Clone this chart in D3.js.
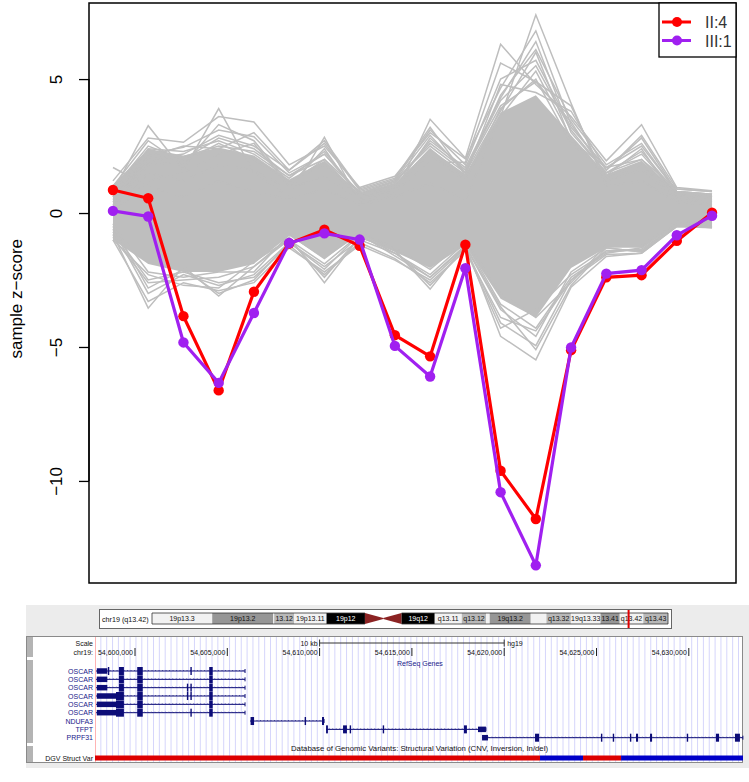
<!DOCTYPE html>
<html><head><meta charset="utf-8">
<script src="https://cdn.jsdelivr.net/npm/d3@7"></script>
<style>body{margin:0;background:#fff}svg{display:block}</style>
</head><body>
<svg id="chart" width="749" height="782"></svg>
<script>
// ---------------- DATA: z-score profile plot ----------------
const probes = [1,2,3,4,5,6,7,8,9,10,11,12,13,14,15,16,17,18];
const seriesNames = ["II:4","III:1"];
const ii4  = [0.86,0.55,-3.85,-6.62,-2.94,-1.14,-0.62,-1.22,-4.56,-5.35,-1.18,-9.62,-11.42,-5.12,-2.40,-2.32,-1.04,0.01];
const iii1 = [0.08,-0.13,-4.83,-6.34,-3.73,-1.12,-0.76,-0.99,-4.96,-6.10,-2.06,-10.42,-13.15,-5.02,-2.26,-2.13,-0.83,-0.10];
// dense core of the background samples (upper / lower edge)
const coreHigh = [1.05,2.40,2.15,2.45,2.15,1.25,1.95,0.70,1.10,2.40,1.45,3.75,4.40,2.90,1.45,1.95,0.80,0.70];
const coreLow  = [-1.00,-1.90,-2.20,-2.20,-1.90,-0.85,-1.70,-0.80,-1.45,-2.05,-1.20,-3.20,-3.90,-2.05,-1.30,-1.30,-0.45,-0.50];
// individual background samples that reach outside the core
const bgUp1  = [1.70,1.00,0.60,1.20,0.80,0.50,0.90,0.30,0.60,1.10,0.50,3.60,7.40,4.10,1.00,1.20,0.40,0.30];
const bgUp2  = [0.80,3.26,1.60,3.90,1.50,0.60,2.83,0.40,0.70,3.50,2.05,6.30,4.80,3.60,1.95,3.30,0.95,0.83];
const bgUp3  = [1.20,2.80,2.64,3.60,3.40,1.80,2.50,0.95,1.37,3.00,2.02,4.66,6.80,3.30,1.60,2.80,0.80,0.70];
const bgUp4  = [0.50,2.20,2.45,3.10,2.85,1.50,2.20,0.70,1.10,2.70,1.70,4.30,6.40,3.00,1.50,2.20,0.70,0.60];
const bgUp5  = [0.90,2.50,2.00,2.80,2.40,1.40,2.00,0.80,1.20,2.50,1.50,3.80,6.00,2.70,1.70,2.00,0.90,0.80];
const bgUp6  = [0.30,1.80,1.90,2.60,2.00,1.20,1.80,0.60,1.00,2.40,1.30,3.60,5.30,2.80,1.30,1.80,0.60,0.50];
const bgUp7  = [0.00,1.20,1.50,2.20,2.60,1.00,2.40,0.50,0.90,2.80,1.60,4.00,4.90,3.40,1.40,2.40,0.50,0.40];
const bgUp8  = [0.60,2.00,2.20,2.90,2.50,1.60,2.60,0.85,1.25,3.10,1.80,5.00,5.70,3.20,1.70,2.50,0.80,0.70];
const bgUp9  = [0.20,1.50,1.20,1.80,1.60,0.90,1.40,0.50,0.80,1.90,1.90,5.60,4.90,4.00,1.20,1.60,0.50,0.40];
const bgUp10 = [0.70,2.40,2.30,2.70,2.20,1.30,2.30,0.70,1.20,2.90,1.50,4.40,6.10,3.50,1.80,2.60,0.80,0.70];
const bgUp11 = [1.00,2.70,1.80,3.30,2.70,1.10,2.00,0.60,1.00,2.20,1.20,3.90,5.00,2.60,1.50,2.00,0.70,0.60];
const bgUp12 = [0.40,2.10,2.50,2.40,3.00,1.60,2.70,0.90,1.30,3.20,1.40,4.80,4.50,3.80,1.60,2.90,0.90,0.80];
const bgUp13 = [0.60,1.90,2.10,2.50,2.30,1.40,2.20,0.75,1.15,2.60,1.60,4.20,5.50,3.10,1.50,2.30,0.75,0.65];
const bgDn1  = [-0.80,-3.55,-2.00,-3.10,-2.00,-0.90,-2.60,-0.90,-1.40,-2.84,-1.20,-4.60,-5.48,-2.77,-1.62,-1.50,-0.50,-0.50];
const bgDn2  = [-1.00,-3.30,-2.60,-2.90,-2.60,-1.30,-2.20,-1.20,-1.76,-2.50,-1.30,-4.10,-4.95,-2.50,-1.40,-1.40,-0.45,-0.55];
const bgDn3  = [-0.60,-3.00,-2.30,-2.70,-2.30,-1.10,-2.00,-1.00,-1.50,-2.30,-1.10,-3.40,-4.30,-2.40,-1.50,-1.30,-0.40,-0.45];
const bgDn4  = [-0.90,-2.60,-2.50,-2.40,-2.00,-1.00,-1.90,-0.80,-1.60,-2.40,-1.25,-3.60,-4.60,-2.20,-1.30,-1.45,-0.50,-0.50];
const bgDn5  = [-0.40,-2.20,-2.40,-2.20,-2.20,-0.80,-1.70,-0.70,-1.30,-2.10,-1.00,-3.00,-3.90,-2.60,-1.20,-1.20,-0.30,-0.40];
const bgDn6  = [-0.70,-2.50,-2.20,-2.60,-2.40,-1.20,-2.30,-1.10,-1.70,-2.60,-1.40,-3.90,-4.40,-2.50,-1.55,-1.50,-0.50,-0.55];
const bgDn7  = [-1.00,-2.30,-2.70,-2.80,-1.80,-1.00,-2.40,-0.90,-1.40,-2.70,-1.35,-4.30,-3.60,-2.30,-1.45,-1.35,-0.45,-0.50];
const bgDn8  = [-0.50,-2.80,-2.10,-3.00,-2.50,-1.10,-2.10,-0.80,-1.50,-2.40,-1.20,-3.50,-5.10,-2.70,-1.30,-1.45,-0.40,-0.45];
const yTicks = [5,0,-5,-10];
const yTitle = "sample z\u2212score";

// ---------------- DATA: genome browser panel ----------------
const bandNames  = ["19p13.3","19p13.2","p13.13","13.12","19p13.11","19p12","p11","q11","19q12","q13.11","q13.12","q13.13","19q13.2","q13.31","q13.32","19q13.33","13.41","q13.42","q13.43"];
const bandStarts = [0,6.9,13.9,14.0,16.3,20.0,24.4,26.5,28.6,32.4,35.5,38.3,38.7,43.4,45.2,48.0,51.4,53.6,56.3];
const bandEnds   = [6.9,13.9,14.0,16.3,20.0,24.4,26.5,28.6,32.4,35.5,38.3,38.7,43.4,45.2,48.0,51.4,53.6,56.3,59.13];
const bandStains = ["gneg","gpos50","gneg","gpos25","gneg","gvar","acen","acen","gvar","gneg","gpos25","gneg","gpos50","gneg","gpos25","gneg","gpos50","gneg","gpos25"];
const bandLabelShown = [true,true,false,true,true,true,false,false,true,true,true,false,true,false,true,true,true,true,true];
const viewCenterMb = 54.615;
const chromLabel = "chr19 (q13.42)";
const posTicks = [54600000,54605000,54610000,54615000,54620000,54625000,54630000];
const posLabels = ["54,600,000","54,605,000","54,610,000","54,615,000","54,620,000","54,625,000","54,630,000"];
const scaleBar = [54610000,54620000];
const geneNames = ["OSCAR","OSCAR","OSCAR","OSCAR","OSCAR","OSCAR","NDUFA3","TFPT","PRPF31"];
const geneSpans = [[54597890,54605960],[54597890,54605960],[54597890,54605960],[54597890,54605960],[54597890,54605960],[54597890,54605960],[54606230,54610240],[54610350,54619010],[54618800,54632930]];
const geneExons = [
  [[54597930,54598500,"utr"],[54598530,54598560,"cds"],[54599130,54599400,"cds"],[54600120,54600420,"cds"],[54603000,54603040,"cds"],[54604020,54604210,"cds"]],
  [[54597930,54598500,"utr"],[54599130,54599400,"cds"],[54600120,54600420,"cds"],[54604020,54604210,"cds"]],
  [[54597930,54598500,"utr"],[54599130,54599400,"cds"],[54600120,54600420,"cds"],[54602810,54602840,"cds"],[54603000,54603040,"cds"],[54604020,54604210,"cds"]],
  [[54597930,54598970,"utr"],[54598970,54599400,"cds"],[54600120,54600420,"cds"],[54602810,54602840,"cds"],[54603000,54603040,"cds"],[54604020,54604210,"cds"]],
  [[54597930,54598970,"utr"],[54598970,54599400,"cds"],[54600120,54600420,"cds"],[54604020,54604210,"cds"]],
  [[54597930,54598970,"utr"],[54598970,54599400,"cds"],[54600120,54600420,"cds"],[54603000,54603040,"cds"],[54604020,54604210,"cds"]],
  [[54606260,54606450,"cds"],[54609190,54609240,"cds"],[54610130,54610240,"cds"]],
  [[54610350,54610450,"cds"],[54611270,54611480,"cds"],[54611630,54611680,"cds"],[54613420,54613460,"cds"],[54617820,54617980,"cds"],[54618580,54619010,"utr"]],
  [[54618800,54619120,"utr"],[54621670,54621890,"cds"],[54625240,54625290,"cds"],[54625880,54625930,"cds"],[54626810,54626860,"cds"],[54627140,54627250,"cds"],[54627900,54628010,"cds"],[54629890,54629940,"cds"],[54631470,54631640,"cds"],[54632500,54632770,"cds"]]
];
const dgvStarts = [54597833,54621940,54624270,54626330];
const dgvEnds   = [54621940,54624270,54626330,54632936];
const dgvTypes  = ["loss","gain","loss","gain"];
const dgvTitle = "Database of Genomic Variants: Structural Variation (CNV, Inversion, In/del)";
const viewRange = [54597833,54632936];

// ---------------- DRAWING ----------------
const svg = d3.select("#chart");
const W = 749;
svg.append("rect").attr("width",W).attr("height",782).attr("fill","#fff");

const x = d3.scaleLinear().domain([0.32,18.68]).range([89,736]);
const y = d3.scaleLinear().domain([-13.81,7.84]).range([583,3]);
const GREY = "#bebebe", RED = "#ff0000", PURPLE = "#a020f0";

const plot = svg.append("g");
plot.append("path")
  .datum(probes.map((p,i)=>({p, hi:coreHigh[i], lo:coreLow[i]})))
  .attr("fill",GREY)
  .attr("d", d3.area().x(d=>x(d.p)).y0(d=>y(d.lo)).y1(d=>y(d.hi)));
const line = d3.line().x((d,i)=>x(probes[i])).y(d=>y(d));
const bgLines = [bgUp1,bgUp2,bgUp3,bgUp4,bgUp5,bgUp6,bgUp7,bgUp8,bgUp9,bgUp10,bgUp11,bgUp12,bgUp13,
                 bgDn1,bgDn2,bgDn3,bgDn4,bgDn5,bgDn6,bgDn7,bgDn8];
plot.selectAll(".bg").data(bgLines).join("path")
  .attr("fill","none").attr("stroke",GREY).attr("stroke-width",1.5)
  .attr("stroke-linejoin","miter").attr("d",line);

function drawSeries(vals,col){
  plot.append("path").datum(vals).attr("fill","none").attr("stroke",col)
    .attr("stroke-width",3.2).attr("d",line);
  plot.selectAll(null).data(vals).join("circle")
    .attr("cx",(d,i)=>x(probes[i])).attr("cy",d=>y(d)).attr("r",5.2).attr("fill",col);
}
drawSeries(ii4,RED);
drawSeries(iii1,PURPLE);

svg.append("rect").attr("x",89).attr("y",3).attr("width",647).attr("height",580)
  .attr("fill","none").attr("stroke","#000").attr("stroke-width",1.5);

const yAxis = svg.append("g").attr("transform","translate(89,0)")
  .call(d3.axisLeft(y).tickValues(yTicks).tickSize(10).tickSizeOuter(0)
    .tickFormat(d=> d<0 ? "\u2212"+Math.abs(d) : String(d)));
yAxis.select(".domain").remove();
yAxis.selectAll(".tick line").attr("stroke","#000").attr("stroke-width",1.3);
yAxis.selectAll(".tick text")
  .attr("x",0).attr("dy",null).attr("y",0)
  .attr("text-anchor","middle")
  .attr("transform","translate(-27,0) rotate(-90)")
  .attr("font-family","Liberation Sans, Arial, sans-serif")
  .attr("font-size",17).attr("fill","#000");
svg.append("line").attr("x1",89).attr("x2",89).attr("y1",y(yTicks[0])).attr("y2",y(yTicks[yTicks.length-1]))
  .attr("stroke","#000").attr("stroke-width",1.3);
svg.append("text").attr("transform","translate(22,"+y(-3.2)+") rotate(-90)")
  .attr("text-anchor","middle").attr("font-family","Liberation Sans, Arial, sans-serif")
  .attr("font-size",17).attr("fill","#000").text(yTitle);

const lg = svg.append("g");
lg.append("rect").attr("x",659).attr("y",3).attr("width",77).attr("height",54)
  .attr("fill","#fff").attr("stroke","#000").attr("stroke-width",1.3);
[RED,PURPLE].forEach((c,i)=>{
  const yy = 22 + i*18.5;
  lg.append("line").attr("x1",662).attr("x2",691).attr("y1",yy).attr("y2",yy).attr("stroke",c).attr("stroke-width",3);
  lg.append("circle").attr("cx",677).attr("cy",yy).attr("r",5).attr("fill",c);
  lg.append("text").attr("x",705).attr("y",yy+6).attr("font-family","Liberation Sans, Arial, sans-serif")
    .attr("font-size",16).attr("fill","#333").text(seriesNames[i]);
});

// ---------------- genome browser panel ----------------
const ub = svg.append("g");
const FONT = "Liberation Sans, Arial, sans-serif";
const TXT = "#111";
ub.append("rect").attr("x",26).attr("y",605).attr("width",W-26).attr("height",163).attr("fill","#ececec");

ub.append("rect").attr("x",99.5).attr("y",609.5).attr("width",572).attr("height",19)
  .attr("fill","#fff").attr("stroke","#666").attr("stroke-width",1);
ub.append("text").attr("x",102).attr("y",621.5).attr("font-family",FONT).attr("font-size",7.2)
  .attr("fill",TXT).text(chromLabel);
const ix = d3.scaleLinear().domain([0,59.13]).range([152,668]);
const iy0 = 613, iy1 = 624;
const stainFill = {gneg:"#f2f2f2", gpos25:"#b8b8b8", gpos50:"#969696", gvar:"#000", acen:"#8b2323"};
bandNames.forEach((nm,i)=>{
  const x0 = ix(bandStarts[i]), x1 = ix(bandEnds[i]);
  if (bandStains[i]==="acen"){
    const mid = (iy0+iy1)/2;
    const pts = i===6 ? [[x0,iy0],[x1,mid-0.5],[x1,mid+0.5],[x0,iy1]] : [[x1,iy0],[x0,mid-0.5],[x0,mid+0.5],[x1,iy1]];
    ub.append("polygon").attr("points",pts.map(p=>p.join(",")).join(" ")).attr("fill",stainFill.acen);
  } else {
    ub.append("rect").attr("x",x0).attr("y",iy0).attr("width",x1-x0).attr("height",iy1-iy0)
      .attr("fill",stainFill[bandStains[i]]);
    if (bandLabelShown[i]) {
      ub.append("text").attr("x",(x0+x1)/2).attr("y",iy1-3).attr("text-anchor","middle")
        .attr("font-family",FONT).attr("font-size",7)
        .attr("fill", bandStains[i]==="gvar" ? "#fff" : TXT).text(nm);
    }
  }
});
ub.append("path").attr("d",`M${ix(0)},${iy0}H${ix(24.4)}M${ix(28.6)},${iy0}H${ix(59.13)}M${ix(0)},${iy1}H${ix(24.4)}M${ix(28.6)},${iy1}H${ix(59.13)}M${ix(0)},${iy0}V${iy1}M${ix(59.13)},${iy0}V${iy1}`)
  .attr("stroke","#333").attr("stroke-width",0.8).attr("fill","none");
ub.append("rect").attr("x",ix(viewCenterMb)-1).attr("y",610).attr("width",2).attr("height",18).attr("fill","#e00000");

ub.append("rect").attr("x",26.5).attr("y",636.5).attr("width",716).attr("height",126)
  .attr("fill","#fff").attr("stroke","#8a8a8a").attr("stroke-width",1);
[[637,657],[660,743],[746,762]].forEach(b=>{
  ub.append("rect").attr("x",27).attr("y",b[0]).attr("width",6).attr("height",b[1]-b[0]).attr("fill","#b4b4b4");
});
const gx = d3.scaleLinear().domain(viewRange).range([95,743]);
for (let gxp = 95+5.85; gxp < 742; gxp += 5.85) {
  ub.append("line").attr("x1",gxp).attr("x2",gxp).attr("y1",637).attr("y2",762)
    .attr("stroke","#d6d6fb").attr("stroke-width",1);
}
ub.append("line").attr("x1",95.5).attr("x2",95.5).attr("y1",637).attr("y2",762).attr("stroke","#ffb4b4").attr("stroke-width",1);

const sbY = 643;
ub.append("line").attr("x1",gx(scaleBar[0])).attr("x2",gx(scaleBar[1])).attr("y1",sbY).attr("y2",sbY).attr("stroke","#333").attr("stroke-width",1);
scaleBar.forEach(v=>ub.append("line").attr("x1",gx(v)).attr("x2",gx(v)).attr("y1",sbY-3.5).attr("y2",sbY+3.5).attr("stroke","#333").attr("stroke-width",1));
ub.append("text").attr("x",gx(scaleBar[0])-2).attr("y",sbY+2.5).attr("text-anchor","end").attr("font-family",FONT).attr("font-size",7).attr("fill",TXT).text("10 kb");
ub.append("text").attr("x",gx(scaleBar[1])+3).attr("y",sbY+2.5).attr("font-family",FONT).attr("font-size",7).attr("fill",TXT).text("hg19");
ub.append("text").attr("x",93).attr("y",646).attr("text-anchor","end").attr("font-family",FONT).attr("font-size",7).attr("fill",TXT).text("Scale");
ub.append("text").attr("x",93).attr("y",654.5).attr("text-anchor","end").attr("font-family",FONT).attr("font-size",7).attr("fill",TXT).text("chr19:");

posTicks.forEach((p,i)=>{
  ub.append("line").attr("x1",gx(p)).attr("x2",gx(p)).attr("y1",648).attr("y2",656).attr("stroke","#222").attr("stroke-width",1);
  ub.append("text").attr("x",gx(p)-2).attr("y",654.5).attr("text-anchor","end").attr("font-family",FONT).attr("font-size",7).attr("fill",TXT).text(posLabels[i]);
});
ub.append("text").attr("x",gx(54615000)+8).attr("y",666).attr("text-anchor","middle").attr("font-family",FONT).attr("font-size",7).attr("fill","#20208a").text("RefSeq Genes");

const NAVY = "#0c0c78";
const rowY = d3.scaleLinear().domain([0,8]).range([671,737.7]);
geneNames.forEach((nm,i)=>{
  const yy = rowY(i);
  ub.append("text").attr("x",93).attr("y",yy+2.5).attr("text-anchor","end").attr("font-family",FONT).attr("font-size",7).attr("fill","#20208a").text(nm);
  const s = geneSpans[i];
  ub.append("line").attr("x1",gx(s[0])).attr("x2",gx(s[1])).attr("y1",yy).attr("y2",yy).attr("stroke",NAVY).attr("stroke-width",1);
  for (let hx = gx(s[0])+3; hx < gx(s[1])-2; hx += 3.5) {
    ub.append("line").attr("x1",hx).attr("x2",hx+1).attr("y1",yy-1).attr("y2",yy).attr("stroke",NAVY).attr("stroke-width",0.6);
  }
  ub.append("line").attr("x1",gx(s[1])).attr("x2",gx(s[1])).attr("y1",yy-2).attr("y2",yy+2).attr("stroke",NAVY).attr("stroke-width",1);
  geneExons[i].forEach(e=>{
    const h = e[2]==="cds" ? 8 : 5.5;
    const x0 = gx(e[0]), w = Math.max(1.4, gx(e[1])-x0);
    ub.append("rect").attr("x",x0).attr("y",yy-h/2).attr("width",w).attr("height",h).attr("fill",NAVY);
  });
});

ub.append("text").attr("x",291).attr("y",751).attr("font-family",FONT).attr("font-size",7)
  .attr("textLength",257).attr("lengthAdjust","spacingAndGlyphs").attr("fill",TXT).text(dgvTitle);
ub.append("text").attr("x",93).attr("y",760.5).attr("text-anchor","end").attr("font-family",FONT).attr("font-size",7).attr("fill",TXT).text("DGV Struct Var");
dgvStarts.forEach((s,i)=>{
  ub.append("rect").attr("x",gx(s)).attr("y",755.5).attr("width",gx(dgvEnds[i])-gx(s)).attr("height",5)
    .attr("fill", dgvTypes[i]==="loss" ? "#dd0000" : "#0000c8");
});
</script>
</body></html>
